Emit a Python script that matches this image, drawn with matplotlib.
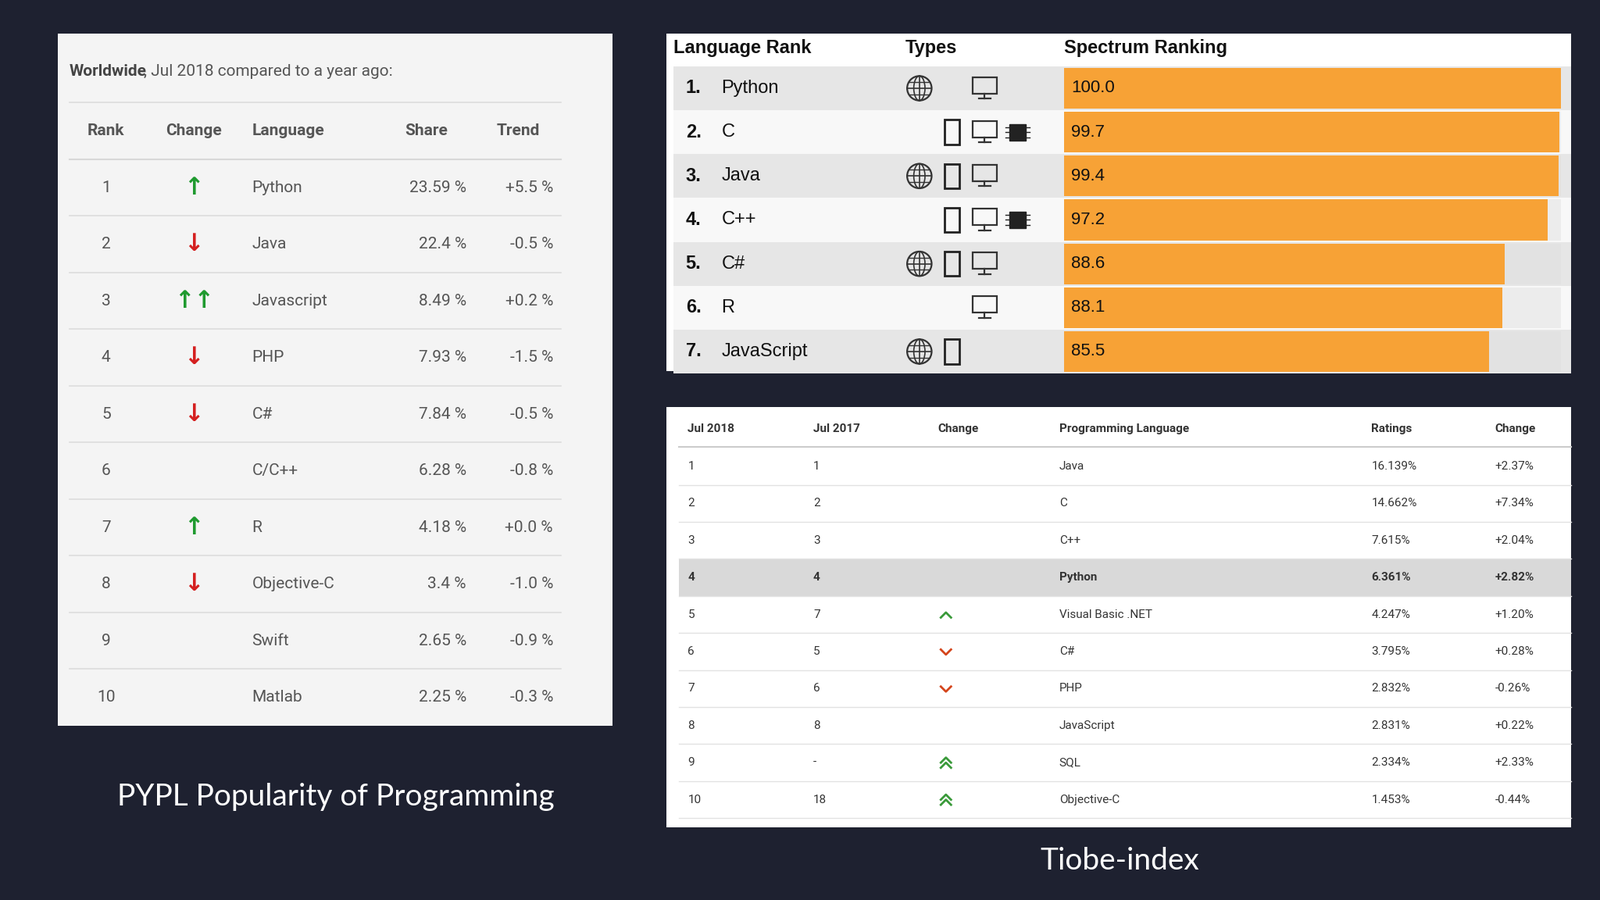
import matplotlib
matplotlib.use("Agg")
import matplotlib.pyplot as plt
from matplotlib.patches import Rectangle, Circle, Ellipse

# ---------------- data ----------------
pypl_rank = [1, 2, 3, 4, 5, 6, 7, 8, 9, 10]
pypl_change = ["up", "down", "upup", "down", "down", "", "up", "down", "", ""]
pypl_lang = ["Python", "Java", "Javascript", "PHP", "C#", "C/C++", "R", "Objective-C", "Swift", "Matlab"]
pypl_share = ["23.59 %", "22.4 %", "8.49 %", "7.93 %", "7.84 %", "6.28 %", "4.18 %", "3.4 %", "2.65 %", "2.25 %"]
pypl_trend = ["+5.5 %", "-0.5 %", "+0.2 %", "-1.5 %", "-0.5 %", "-0.8 %", "+0.0 %", "-1.0 %", "-0.9 %", "-0.3 %"]

spec_lang = ["Python", "C", "Java", "C++", "C#", "R", "JavaScript"]
spec_score = [100.0, 99.7, 99.4, 97.2, 88.6, 88.1, 85.5]
spec_types = [["web", "desk"], ["mob", "desk", "chip"], ["web", "mob", "desk"], ["mob", "desk", "chip"],
              ["web", "mob", "desk"], ["desk"], ["web", "mob"]]

tiobe_2018 = ["1", "2", "3", "4", "5", "6", "7", "8", "9", "10"]
tiobe_2017 = ["1", "2", "3", "4", "7", "5", "6", "8", "-", "18"]
tiobe_change = ["", "", "", "", "up", "down", "down", "", "upup", "upup"]
tiobe_lang = ["Java", "C", "C++", "Python", "Visual Basic .NET", "C#", "PHP", "JavaScript", "SQL", "Objective-C"]
tiobe_rating = ["16.139%", "14.662%", "7.615%", "6.361%", "4.247%", "3.795%", "2.832%", "2.831%", "2.334%", "1.453%"]
tiobe_delta = ["+2.37%", "+7.34%", "+2.04%", "+2.82%", "+1.20%", "+0.28%", "-0.26%", "+0.22%", "+2.33%", "-0.44%"]

W, H = 1568, 882
BG = "#1e2130"
fig = plt.figure(figsize=(20.48, 11.52), dpi=100, facecolor=BG)
ax = fig.add_axes([0, 0, 1, 1])
ax.set_xlim(0, W); ax.set_ylim(H, 0); ax.axis("off")

NARROW = ["Liberation Sans Narrow", "Roboto", "DejaVu Sans"]

# ---------------- PYPL panel ----------------
ax.add_patch(Rectangle((57, 33), 543, 678, fc="#f4f4f4", ec="none"))
ax.text(68, 70, "Worldwide", fontsize=15, fontweight="bold", color="#444", family=NARROW, va="center")
ax.text(141, 70, ", Jul 2018 compared to a year ago:", fontsize=15, color="#555", family=NARROW, va="center")
ax.plot([68, 550], [100, 100], color="#dddddd", lw=1.2)
hdr_y = 128
for x, t, ha in [(104, "Rank", "center"), (190, "Change", "center"), (247, "Language", "left"),
                 (418, "Share", "center"), (508, "Trend", "center")]:
    ax.text(x, hdr_y, t, fontsize=15, fontweight="bold", color="#555", family=NARROW, ha=ha, va="center")
ax.plot([68, 550], [156, 156], color="#d8d8d8", lw=1.5)
for i in range(len(pypl_lang)):
    y = 184 + 55.5 * i
    ax.text(104, y, str(pypl_rank[i]), fontsize=15, color="#555", family=NARROW, ha="center", va="center")
    ch = pypl_change[i]
    kw = dict(fontsize=22, fontweight="bold", ha="center", va="center", family="DejaVu Sans")
    if ch == "up":
        ax.text(190, y, "↑", color="#1f9a2f", **kw)
    elif ch == "upup":
        ax.text(190, y, "↑↑", color="#1f9a2f", **kw)
    elif ch == "down":
        ax.text(190, y, "↓", color="#d42020", **kw)
    ax.text(247, y, pypl_lang[i], fontsize=15, color="#555", family=NARROW, ha="left", va="center")
    ax.text(457, y, pypl_share[i], fontsize=15, color="#555", family=NARROW, ha="right", va="center")
    ax.text(542, y, pypl_trend[i], fontsize=15, color="#555", family=NARROW, ha="right", va="center")
    if i < len(pypl_lang) - 1:
        ax.plot([68, 550], [y + 27.5, y + 27.5], color="#dcdcdc", lw=1.2)
ax.text(329, 781, "PYPL Popularity of Programming", fontsize=28, color="white", family=["Lato", "DejaVu Sans"],
        ha="center", va="center")

# ---------------- Spectrum panel ----------------
ax.add_patch(Rectangle((653, 33), 887, 331, fc="white", ec="none"))
SF = ["Liberation Sans", "DejaVu Sans"]
for x, t in [(660, "Language Rank"), (887, "Types"), (1043, "Spectrum Ranking")]:
    ax.text(x, 47, t, fontsize=17, fontweight="bold", color="#111", family=SF, va="center")
row_h = 43
top = 65
for i in range(len(spec_lang)):
    y0 = top + row_h * i
    yc = y0 + row_h / 2
    ax.add_patch(Rectangle((660, y0), 880, row_h, fc="#e6e6e6" if i % 2 == 0 else "#f8f8f8", ec="none"))
    ax.add_patch(Rectangle((1043, y0 + 1.5), 487, row_h - 3, fc="#e2e2e2" if i % 2 == 0 else "#ececec", ec="none"))
    ax.text(672, yc, f"{i+1}.", fontsize=17, fontweight="bold", color="#111", family=SF, va="center")
    ax.text(707, yc, spec_lang[i], fontsize=17, color="#111", family=SF, va="center")
    for tp in spec_types[i]:
        if tp == "web":
            cx = 901
            ax.add_patch(Circle((cx, yc), 12, fc="none", ec="#333", lw=1.6))
            ax.plot([cx - 12, cx + 12], [yc, yc], color="#333", lw=1.2)
            ax.plot([cx, cx], [yc - 12, yc + 12], color="#333", lw=1.2)
            ax.add_patch(Ellipse((cx, yc), 11, 24, fc="none", ec="#333", lw=1.2))
            ax.plot([cx - 10, cx + 10], [yc - 6, yc - 6], color="#333", lw=1)
            ax.plot([cx - 10, cx + 10], [yc + 6, yc + 6], color="#333", lw=1)
        elif tp == "mob":
            cx = 933
            ax.add_patch(Rectangle((cx - 7, yc - 12), 14, 24, fc="none", ec="#222", lw=2))
        elif tp == "desk":
            cx = 965
            ax.add_patch(Rectangle((cx - 12, yc - 11), 24, 16, fc="none", ec="#333", lw=1.6))
            ax.plot([cx, cx], [yc + 5, yc + 10], color="#333", lw=1.6)
            ax.plot([cx - 6, cx + 6], [yc + 10, yc + 10], color="#333", lw=1.6)
        elif tp == "chip":
            cx = 997
            ax.add_patch(Rectangle((cx - 8, yc - 8), 16, 16, fc="#222", ec="#222", lw=1))
            for k in (-5, 0, 5):
                ax.plot([cx - 12, cx + 12], [yc + k, yc + k], color="#222", lw=1, zorder=1)
bax = fig.add_axes([1043 / W, 1 - (top + row_h * 7) / H, 487 / W, row_h * 7 / H])
bax.patch.set_alpha(0)
ypos = list(range(len(spec_score)))
bax.barh(ypos, spec_score, height=0.93, color="#f7a236", edgecolor="none")
bax.set_xlim(0, 100); bax.set_ylim(len(spec_score) - 0.5, -0.5); bax.axis("off")
for i, v in enumerate(spec_score):
    bax.text(1.4, i, f"{v:.1f}", fontsize=16, color="#111", family=SF, va="center")

# ---------------- TIOBE panel ----------------
ax.add_patch(Rectangle((653, 399), 887, 412, fc="white", ec="none"))
F = ["Roboto", "DejaVu Sans"]
for x, t in [(674, "Jul 2018"), (797, "Jul 2017"), (919, "Change"), (1038, "Programming Language"),
             (1344, "Ratings"), (1465, "Change")]:
    ax.text(x, 420, t, fontsize=11, fontweight="bold", color="#333", family=F, va="center")
ax.plot([665, 1540], [438, 438], color="#cccccc", lw=1.5)
rh = 36.3
for i in range(len(tiobe_lang)):
    y = 457 + rh * i
    bold = tiobe_lang[i] == "Python"
    if bold:
        ax.add_patch(Rectangle((665, y - rh / 2), 875, rh, fc="#d9d9d9", ec="none"))
    fw = "bold" if bold else "normal"
    for x, t in [(674, tiobe_2018[i]), (797, tiobe_2017[i]), (1038, tiobe_lang[i]),
                 (1344, tiobe_rating[i]), (1465, tiobe_delta[i])]:
        ax.text(x, y, t, fontsize=11, fontweight=fw, color="#333", family=F, va="center")
    ch = tiobe_change[i]
    cx = 927
    if ch == "up":
        ax.plot([cx - 5, cx, cx + 5], [y + 3, y - 2, y + 3], color="#3a9a3a", lw=2)
    elif ch == "down":
        ax.plot([cx - 5, cx, cx + 5], [y - 2, y + 3, y - 2], color="#d4451c", lw=2)
    elif ch == "upup":
        for d in (-3, 2):
            ax.plot([cx - 5, cx, cx + 5], [y + 3 + d, y - 2 + d, y + 3 + d], color="#3a9a3a", lw=2)
    ax.plot([665, 1540], [y + rh / 2, y + rh / 2], color="#e2e2e2", lw=1)
ax.text(1097, 844, "Tiobe-index", fontsize=28, color="white", family=["Lato", "DejaVu Sans"], ha="center", va="center")

fig.savefig("out.png", dpi=100, facecolor=BG)
